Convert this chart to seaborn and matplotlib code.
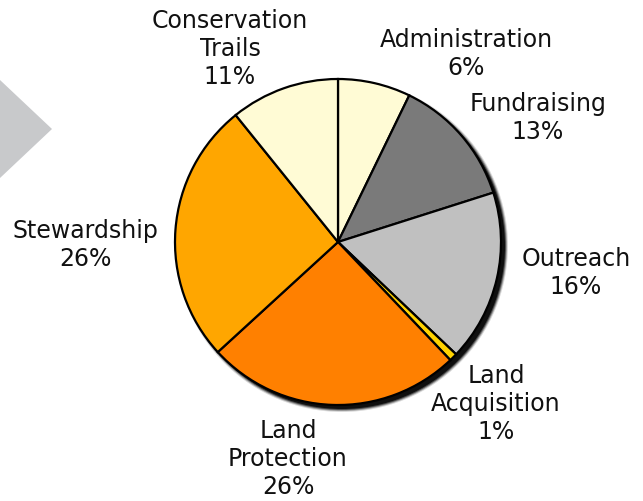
import numpy as np
import matplotlib
matplotlib.use("Agg")
import matplotlib.pyplot as plt
import seaborn as sns
from matplotlib.patches import Circle, Polygon

sns.set_style("white")
plt.rcParams['font.family'] = ['DejaVu Sans']

# 预算分配（顺时针，从顶部开始）
categories = ["Administration", "Fundraising", "Outreach", "Land\nAcquisition",
              "Land\nProtection", "Stewardship", "Conservation\nTrails"]
shares = [7.2, 12.9, 17.0, 0.8, 25.3, 26.0, 10.8]
pct_labels = ["6%", "13%", "16%", "1%", "26%", "26%", "11%"]
colors = ["#fffbd5", "#7a7a7a", "#c0c0c0", "#ffd200", "#ff8000", "#ffa600", "#fffbd5"]

# 标签中心位置（像素）
label_pos = [(466, 54), (538, 118), (576, 273), (496, 404),
             (288, 459), (85, 245), (230, 49)]

W, H = 643, 501
fig = plt.figure(figsize=(W / 100, H / 100), dpi=100)
ax = fig.add_axes([0, 0, 1, 1])
ax.set_xlim(0, W)
ax.set_ylim(0, H)
ax.set_aspect("equal")
ax.axis("off")

# 左侧灰色箭头
ax.add_patch(Polygon([(0, H - 80), (52, H - 129), (0, H - 178)],
                     closed=True, color="#c8c9cb", lw=0))

cx, cy, r = 338, H - 242, 163

# 阴影
for i, a in enumerate([0.15, 0.3, 0.5, 0.8]):
    ax.add_patch(Circle((cx + 4, cy - 4), r + 3 - i, color="black", alpha=a, lw=0, zorder=1))

ax.pie(shares, colors=colors, startangle=90, counterclock=False,
       center=(cx, cy), radius=r, frame=True,
       wedgeprops=dict(edgecolor="black", linewidth=1.6, zorder=2))
ax.set_xlim(0, W)
ax.set_ylim(0, H)
ax.axis("off")

for name, pct, (x, y) in zip(categories, pct_labels, label_pos):
    ax.text(x, H - y, f"{name}\n{pct}", ha="center", va="center",
            fontsize=17, color="#111111", linespacing=1.22, zorder=5)

fig.savefig("out.png", dpi=100)
